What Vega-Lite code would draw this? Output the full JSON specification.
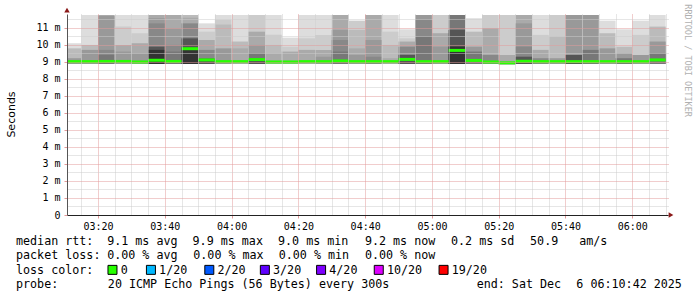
{
  "$schema": "https://vega.github.io/schema/vega-lite/v6.json",
  "width": 601,
  "height": 201,
  "autosize": {"type": "none"},
  "padding": {"left": 67, "top": 14, "right": 29, "bottom": 82},
  "background": "white",
  "config": {"view": {"stroke": null}, "font": "DejaVu Sans Mono", "axis": {"labelOverlap": false, "labelFlush": false}},
  "datasets": {
    "bands": [
      {"m":190,"m2":195,"lvl":1,"lo":8.88,"hi":10.1},{"m":190,"m2":195,"lvl":3,"lo":8.88,"hi":9.8},{"m":190,"m2":195,"lvl":5,"lo":8.88,"hi":9.22},
      {"m":195,"m2":200,"lvl":1,"lo":8.88,"hi":11.76},{"m":195,"m2":200,"lvl":3,"lo":8.88,"hi":10.0},{"m":195,"m2":200,"lvl":5,"lo":8.88,"hi":9.71},
      {"m":200,"m2":205,"lvl":4,"lo":8.88,"hi":11.76},{"m":200,"m2":205,"lvl":5,"lo":8.88,"hi":11.7},{"m":200,"m2":205,"lvl":6,"lo":8.88,"hi":9.71},{"m":200,"m2":205,"lvl":7,"lo":8.88,"hi":9.41},
      {"m":205,"m2":210,"lvl":1,"lo":8.88,"hi":11.76},{"m":205,"m2":210,"lvl":2,"lo":8.88,"hi":11.08},{"m":205,"m2":210,"lvl":4,"lo":8.88,"hi":10.0},{"m":205,"m2":210,"lvl":5,"lo":8.88,"hi":9.61},
      {"m":210,"m2":215,"lvl":1,"lo":8.88,"hi":11.76},{"m":210,"m2":215,"lvl":2,"lo":8.88,"hi":10.69},{"m":210,"m2":215,"lvl":4,"lo":8.88,"hi":10.1},{"m":210,"m2":215,"lvl":5,"lo":8.88,"hi":9.51},
      {"m":215,"m2":220,"lvl":4,"lo":8.88,"hi":11.76},{"m":215,"m2":220,"lvl":5,"lo":8.88,"hi":11.57},{"m":215,"m2":220,"lvl":6,"lo":8.88,"hi":11.27},{"m":215,"m2":220,"lvl":8,"lo":8.88,"hi":9.9},{"m":215,"m2":220,"lvl":9,"lo":8.88,"hi":9.71},
      {"m":220,"m2":225,"lvl":4,"lo":8.88,"hi":11.76},{"m":220,"m2":225,"lvl":5,"lo":8.88,"hi":10.98},{"m":220,"m2":225,"lvl":6,"lo":8.88,"hi":10.0},{"m":220,"m2":225,"lvl":7,"lo":8.88,"hi":9.61},
      {"m":225,"m2":230,"lvl":3,"lo":8.88,"hi":11.76},{"m":225,"m2":230,"lvl":4,"lo":8.88,"hi":11.6},{"m":225,"m2":230,"lvl":6,"lo":8.88,"hi":11.27},{"m":225,"m2":230,"lvl":8,"lo":8.88,"hi":10.39},{"m":225,"m2":230,"lvl":9,"lo":8.88,"hi":9.85},
      {"m":230,"m2":235,"lvl":1,"lo":8.88,"hi":11.27},{"m":230,"m2":235,"lvl":2,"lo":8.88,"hi":10.78},{"m":230,"m2":235,"lvl":4,"lo":8.88,"hi":10.29},{"m":230,"m2":235,"lvl":6,"lo":8.88,"hi":9.71},{"m":230,"m2":235,"lvl":8,"lo":8.88,"hi":9.2},
      {"m":235,"m2":240,"lvl":1,"lo":8.88,"hi":11.76},{"m":235,"m2":240,"lvl":2,"lo":8.88,"hi":11.47},{"m":235,"m2":240,"lvl":3,"lo":8.88,"hi":11.2},{"m":235,"m2":240,"lvl":5,"lo":8.88,"hi":9.8},
      {"m":240,"m2":245,"lvl":1,"lo":8.88,"hi":11.76},{"m":240,"m2":245,"lvl":3,"lo":8.88,"hi":10.2},{"m":240,"m2":245,"lvl":4,"lo":8.88,"hi":9.8},
      {"m":245,"m2":250,"lvl":2,"lo":8.88,"hi":11.76},{"m":245,"m2":250,"lvl":4,"lo":8.88,"hi":10.78},{"m":245,"m2":250,"lvl":5,"lo":8.88,"hi":10.0},{"m":245,"m2":250,"lvl":7,"lo":8.88,"hi":9.51},{"m":245,"m2":250,"lvl":8,"lo":8.88,"hi":9.22},
      {"m":250,"m2":255,"lvl":1,"lo":8.88,"hi":11.76},{"m":250,"m2":255,"lvl":2,"lo":8.88,"hi":10.6},{"m":250,"m2":255,"lvl":3,"lo":8.88,"hi":10.0},{"m":250,"m2":255,"lvl":4,"lo":8.88,"hi":9.5},
      {"m":255,"m2":260,"lvl":1,"lo":8.88,"hi":10.43},{"m":255,"m2":260,"lvl":2,"lo":8.88,"hi":9.9},{"m":255,"m2":260,"lvl":4,"lo":8.88,"hi":9.61},
      {"m":260,"m2":265,"lvl":1,"lo":8.88,"hi":11.76},{"m":260,"m2":265,"lvl":2,"lo":8.88,"hi":10.39},{"m":260,"m2":265,"lvl":4,"lo":8.88,"hi":9.71},
      {"m":265,"m2":270,"lvl":1,"lo":8.88,"hi":11.76},{"m":265,"m2":270,"lvl":2,"lo":8.88,"hi":10.59},{"m":265,"m2":270,"lvl":4,"lo":8.88,"hi":9.71},{"m":265,"m2":270,"lvl":5,"lo":8.88,"hi":9.3},
      {"m":270,"m2":275,"lvl":4,"lo":8.88,"hi":11.76},{"m":270,"m2":275,"lvl":5,"lo":8.88,"hi":10.88},{"m":270,"m2":275,"lvl":6,"lo":8.88,"hi":10.29},{"m":270,"m2":275,"lvl":7,"lo":8.88,"hi":9.61},
      {"m":275,"m2":280,"lvl":2,"lo":8.88,"hi":11.43},{"m":275,"m2":280,"lvl":3,"lo":8.88,"hi":10.88},{"m":275,"m2":280,"lvl":4,"lo":8.88,"hi":9.8},{"m":275,"m2":280,"lvl":5,"lo":8.88,"hi":9.41},
      {"m":280,"m2":285,"lvl":4,"lo":8.88,"hi":11.76},{"m":280,"m2":285,"lvl":5,"lo":8.88,"hi":10.29},{"m":280,"m2":285,"lvl":6,"lo":8.88,"hi":9.31},
      {"m":285,"m2":290,"lvl":1,"lo":8.88,"hi":11.76},{"m":285,"m2":290,"lvl":2,"lo":8.88,"hi":10.78},{"m":285,"m2":290,"lvl":3,"lo":8.88,"hi":10.0},{"m":285,"m2":290,"lvl":4,"lo":8.88,"hi":9.22},
      {"m":290,"m2":295,"lvl":1,"lo":8.88,"hi":10.92},{"m":290,"m2":295,"lvl":2,"lo":8.88,"hi":10.39},{"m":290,"m2":295,"lvl":4,"lo":8.88,"hi":10.2},{"m":290,"m2":295,"lvl":6,"lo":8.88,"hi":9.9},{"m":290,"m2":295,"lvl":8,"lo":8.88,"hi":9.41},
      {"m":295,"m2":300,"lvl":5,"lo":8.88,"hi":11.76},{"m":295,"m2":300,"lvl":6,"lo":8.88,"hi":11.5},{"m":295,"m2":300,"lvl":7,"lo":8.88,"hi":10.5},
      {"m":300,"m2":305,"lvl":2,"lo":8.88,"hi":11.76},{"m":300,"m2":305,"lvl":4,"lo":8.88,"hi":10.69},{"m":300,"m2":305,"lvl":5,"lo":8.88,"hi":9.9},
      {"m":305,"m2":310,"lvl":7,"lo":8.88,"hi":11.76},{"m":305,"m2":310,"lvl":8,"lo":8.88,"hi":10.88},{"m":305,"m2":310,"lvl":9,"lo":8.88,"hi":9.9},
      {"m":310,"m2":315,"lvl":1,"lo":8.88,"hi":11.57},{"m":310,"m2":315,"lvl":3,"lo":8.88,"hi":10.78},{"m":310,"m2":315,"lvl":5,"lo":8.88,"hi":9.9},{"m":310,"m2":315,"lvl":7,"lo":8.88,"hi":9.61},
      {"m":315,"m2":320,"lvl":2,"lo":8.88,"hi":11.76},{"m":315,"m2":320,"lvl":4,"lo":8.88,"hi":10.98},{"m":315,"m2":320,"lvl":6,"lo":8.88,"hi":9.41},
      {"m":320,"m2":325,"lvl":2,"lo":8.85,"hi":11.76},{"m":320,"m2":325,"lvl":4,"lo":8.85,"hi":9.41},
      {"m":325,"m2":330,"lvl":4,"lo":8.88,"hi":11.76},{"m":325,"m2":330,"lvl":5,"lo":8.88,"hi":11.27},{"m":325,"m2":330,"lvl":6,"lo":8.88,"hi":9.9},{"m":325,"m2":330,"lvl":8,"lo":8.88,"hi":9.31},
      {"m":330,"m2":335,"lvl":1,"lo":8.88,"hi":11.76},{"m":330,"m2":335,"lvl":2,"lo":8.88,"hi":10.59},{"m":330,"m2":335,"lvl":4,"lo":8.88,"hi":9.71},{"m":330,"m2":335,"lvl":6,"lo":8.88,"hi":9.22},
      {"m":335,"m2":340,"lvl":2,"lo":8.88,"hi":11.76},{"m":335,"m2":340,"lvl":3,"lo":8.88,"hi":10.49},{"m":335,"m2":340,"lvl":5,"lo":8.88,"hi":9.22},
      {"m":340,"m2":345,"lvl":5,"lo":8.88,"hi":11.76},{"m":340,"m2":345,"lvl":8,"lo":8.88,"hi":9.41},
      {"m":345,"m2":350,"lvl":5,"lo":8.88,"hi":11.76},{"m":345,"m2":350,"lvl":7,"lo":8.88,"hi":9.71},
      {"m":350,"m2":355,"lvl":1,"lo":8.88,"hi":11.43},{"m":350,"m2":355,"lvl":3,"lo":8.88,"hi":10.69},{"m":350,"m2":355,"lvl":5,"lo":8.88,"hi":9.8},
      {"m":355,"m2":360,"lvl":1,"lo":8.88,"hi":10.92},{"m":355,"m2":360,"lvl":3,"lo":8.88,"hi":9.9},{"m":355,"m2":360,"lvl":5,"lo":8.88,"hi":9.51},{"m":355,"m2":360,"lvl":7,"lo":8.88,"hi":9.22},
      {"m":360,"m2":365,"lvl":1,"lo":8.88,"hi":11.43},{"m":360,"m2":365,"lvl":2,"lo":8.88,"hi":10.59},{"m":360,"m2":365,"lvl":5,"lo":8.88,"hi":9.41},
      {"m":365,"m2":370,"lvl":1,"lo":8.88,"hi":11.76},{"m":365,"m2":370,"lvl":3,"lo":8.88,"hi":11.08},{"m":365,"m2":370,"lvl":5,"lo":8.88,"hi":10.2},{"m":365,"m2":370,"lvl":7,"lo":8.88,"hi":9.51}
    ],
    "medians": [
      {"m":190,"m2":195,"med":9.02},{"m":195,"m2":200,"med":9.02},{"m":200,"m2":205,"med":9.03},{"m":205,"m2":210,"med":9.03},
      {"m":210,"m2":215,"med":9.0},{"m":215,"m2":220,"med":9.1},{"m":220,"m2":225,"med":9.03},{"m":225,"m2":230,"med":9.78},
      {"m":230,"m2":235,"med":9.12},{"m":235,"m2":240,"med":9.02},{"m":240,"m2":245,"med":9.02},{"m":245,"m2":250,"med":9.14},
      {"m":250,"m2":255,"med":9.0},{"m":255,"m2":260,"med":9.0},{"m":260,"m2":265,"med":9.02},{"m":265,"m2":270,"med":9.02},
      {"m":270,"m2":275,"med":9.06},{"m":275,"m2":280,"med":9.02},{"m":280,"m2":285,"med":9.02},{"m":285,"m2":290,"med":9.02},
      {"m":290,"m2":295,"med":9.15},{"m":295,"m2":300,"med":9.02},{"m":300,"m2":305,"med":9.02},{"m":305,"m2":310,"med":9.68},
      {"m":310,"m2":315,"med":9.09},{"m":315,"m2":320,"med":9.0},{"m":320,"m2":325,"med":8.95},{"m":325,"m2":330,"med":9.04},
      {"m":330,"m2":335,"med":9.02},{"m":335,"m2":340,"med":9.02},{"m":340,"m2":345,"med":9.02},{"m":345,"m2":350,"med":9.02},
      {"m":350,"m2":355,"med":9.02},{"m":355,"m2":360,"med":9.02},{"m":360,"m2":365,"med":9.02},{"m":365,"m2":370,"med":9.12}
    ],
    "legend": [
      {"line": 0, "col": 0, "text": "median rtt:"},
      {"line": 0, "col": 12.8, "text": "9.1 ms avg"},
      {"line": 0, "col": 24.8, "text": "9.9 ms max"},
      {"line": 0, "col": 36.8, "text": "9.0 ms min"},
      {"line": 0, "col": 49.0, "text": "9.2 ms now"},
      {"line": 0, "col": 61.1, "text": "0.2 ms sd"},
      {"line": 0, "col": 72.2, "text": "50.9"},
      {"line": 0, "col": 79.1, "text": "am/s"},
      {"line": 1, "col": 0, "text": "packet loss:"},
      {"line": 1, "col": 12.8, "text": "0.00 % avg"},
      {"line": 1, "col": 24.9, "text": "0.00 % max"},
      {"line": 1, "col": 36.9, "text": "0.00 % min"},
      {"line": 1, "col": 49.0, "text": "0.00 % now"},
      {"line": 2, "col": 0, "text": "loss color:"},
      {"line": 2, "col": 14.7, "text": "0"},
      {"line": 2, "col": 20.1, "text": "1/20"},
      {"line": 2, "col": 28.3, "text": "2/20"},
      {"line": 2, "col": 36.1, "text": "3/20"},
      {"line": 2, "col": 44.0, "text": "4/20"},
      {"line": 2, "col": 52.1, "text": "10/20"},
      {"line": 2, "col": 61.2, "text": "19/20"},
      {"line": 3, "col": 0, "text": "probe:"},
      {"line": 3, "col": 12.9, "text": "20 ICMP Echo Pings (56 Bytes) every 300s"},
      {"line": 3, "col": 64.7, "text": "end: Sat Dec"},
      {"line": 3, "col": 78.7, "text": "6 06:10:42 2025"}
    ],
    "boxes": [
      {"line": 2, "col": 13.55, "loss": "0"},
      {"line": 2, "col": 18.95, "loss": "1/20"},
      {"line": 2, "col": 27.15, "loss": "2/20"},
      {"line": 2, "col": 34.95, "loss": "3/20"},
      {"line": 2, "col": 42.85, "loss": "4/20"},
      {"line": 2, "col": 50.95, "loss": "10/20"},
      {"line": 2, "col": 60.05, "loss": "19/20"}
    ]
  },
  "layer": [
    {
      "data": {"name": "medians"},
      "mark": {"type": "tick", "opacity": 0},
      "encoding": {
        "x": {
          "field": "m", "type": "quantitative",
          "scale": {"domain": [190.7, 370.7], "nice": false, "zero": false},
          "axis": {"orient": "top", "title": null, "values": [195, 205, 210, 215, 225, 230, 235, 245, 250, 255, 265, 270, 275, 285, 290, 295, 305, 310, 315, 325, 330, 335, 345, 350, 355, 365, 370], "labels": false, "ticks": false, "domain": false, "grid": true, "gridColor": "#cccccc", "gridDash": [1, 1], "zindex": 1}
        },
        "y": {
          "field": "med", "type": "quantitative",
          "scale": {"domain": [0, 11.82], "nice": false, "zero": true},
          "axis": {"orient": "right", "title": null, "values": [0.5, 1.5, 2.5, 3.5, 4.5, 5.5, 6.5, 7.5, 8.5, 9.5, 10.5, 11.5], "labels": false, "ticks": false, "domain": false, "grid": true, "gridColor": "#cccccc", "gridDash": [1, 1], "zindex": 1}
        }
      }
    },
    {
      "data": {"name": "bands"},
      "mark": {"type": "rect", "clip": true},
      "encoding": {
        "x": {
          "field": "m", "type": "quantitative",
          "scale": {"domain": [190.7, 370.7], "nice": false, "zero": false},
          "axis": {
            "orient": "bottom", "title": null,
            "values": [200, 220, 240, 260, 280, 300, 320, 340, 360],
            "labelExpr": "'0' + floor(datum.value / 60) + ':' + (datum.value % 60 < 10 ? '0' : '') + (datum.value % 60)",
            "labelOverlap": false, "labelFlush": false,
            "labelFont": "DejaVu Sans Mono", "labelFontSize": 10, "labelColor": "#000",
            "labelPadding": 3, "tickSize": 3, "tickColor": "#e39a9a",
            "grid": true, "gridColor": "#e39a9a", "gridDash": [1, 1],
            "domainColor": "#222222", "zindex": 1
          }
        },
        "x2": {"field": "m2"},
        "y": {
          "field": "lo", "type": "quantitative",
          "scale": {"domain": [0, 11.82], "nice": false, "zero": true},
          "axis": {
            "orient": "left",
            "values": [0, 1, 2, 3, 4, 5, 6, 7, 8, 9, 10, 11],
            "labelExpr": "datum.value === 0 ? '0' : datum.value + ' m'",
            "labelOverlap": false, "labelFont": "DejaVu Sans Mono", "labelFontSize": 10, "labelColor": "#000",
            "labelPadding": 4, "tickSize": 3, "tickColor": "#e39a9a",
            "grid": true, "gridColor": "#e39a9a", "gridDash": [1, 1],
            "domainColor": "#555555",
            "title": "Seconds", "titleFont": "DejaVu Sans", "titleFontSize": 11, "titleFontWeight": "normal", "titleColor": "#000",
            "titleX": -56, "titleY": 100, "titleAngle": -90, "titleBaseline": "middle", "titleAlign": "center",
            "zindex": 1
          }
        },
        "y2": {"field": "hi"},
        "color": {
          "field": "lvl", "type": "ordinal",
          "scale": {"domain": [1, 2, 3, 4, 5, 6, 7, 8, 9], "range": ["#dddddd", "#cccccc", "#bbbbbb", "#aaaaaa", "#999999", "#888888", "#777777", "#555555", "#333333"]},
          "legend": null
        }
      }
    },
    {
      "data": {"name": "medians"},
      "mark": {"type": "rule", "clip": true, "strokeWidth": 3, "color": "#26ff00"},
      "encoding": {
        "x": {"field": "m", "type": "quantitative", "scale": {"domain": [190.7, 370.7], "nice": false, "zero": false}, "axis": null},
        "x2": {"field": "m2"},
        "y": {"field": "med", "type": "quantitative", "scale": {"domain": [0, 11.82], "nice": false, "zero": true}, "axis": null}
      }
    },
    {
      "data": {"values": [{"arrow": "y"}]},
      "mark": {"type": "point", "shape": "triangle-up", "filled": true, "size": 30, "color": "#8b1a1a", "opacity": 1, "clip": false},
      "encoding": {
        "x": {"datum": 190.7, "type": "quantitative", "scale": {"domain": [190.7, 370.7], "nice": false, "zero": false}, "axis": null},
        "y": {"datum": 12.05, "type": "quantitative", "scale": {"domain": [0, 11.82], "nice": false, "zero": true}, "axis": null}
      }
    },
    {
      "data": {"values": [{"arrow": "x"}]},
      "mark": {"type": "point", "shape": "triangle-right", "filled": true, "size": 30, "color": "#8b1a1a", "opacity": 1, "clip": false},
      "encoding": {
        "x": {"datum": 371.6, "type": "quantitative", "scale": {"domain": [190.7, 370.7], "nice": false, "zero": false}, "axis": null},
        "y": {"datum": 0, "type": "quantitative", "scale": {"domain": [0, 11.82], "nice": false, "zero": true}, "axis": null}
      }
    },
    {
      "data": {"name": "legend"},
      "mark": {"type": "text", "align": "left", "baseline": "middle", "font": "DejaVu Sans Mono", "fontSize": 11.7, "color": "#000"},
      "encoding": {
        "x": {"field": "col", "type": "quantitative", "scale": {"domain": [0, 100], "range": [-51, 661]}, "axis": null},
        "y": {"field": "line", "type": "quantitative", "scale": {"domain": [0, 3], "range": [227, 270.3]}, "axis": null},
        "text": {"field": "text"}
      }
    },
    {
      "data": {"name": "boxes"},
      "mark": {"type": "point", "shape": "square", "filled": true, "size": 81, "stroke": "#000", "strokeWidth": 1, "opacity": 1},
      "encoding": {
        "x": {"field": "col", "type": "quantitative", "scale": {"domain": [0, 100], "range": [-51, 661]}, "axis": null},
        "y": {"field": "line", "type": "quantitative", "scale": {"domain": [0, 3], "range": [227, 270.3]}, "axis": null},
        "fill": {
          "field": "loss", "type": "nominal",
          "scale": {"domain": ["0", "1/20", "2/20", "3/20", "4/20", "10/20", "19/20"], "range": ["#26ff00", "#00b8ff", "#0059ff", "#5e00ff", "#7e00ff", "#dd00ff", "#ff0000"]},
          "legend": null
        }
      }
    },
    {
      "data": {"values": [{"label": "RRDTOOL / TOBI OETIKER"}]},
      "mark": {"type": "text", "angle": 90, "align": "center", "baseline": "middle", "font": "DejaVu Sans Mono", "fontSize": 8.5, "color": "#b0b0b0"},
      "encoding": {
        "x": {"datum": 94.45, "type": "quantitative", "scale": {"domain": [0, 100], "range": [-51, 661]}, "axis": null},
        "y": {"datum": -12.5, "type": "quantitative", "scale": {"domain": [0, 3], "range": [227, 270.3]}, "axis": null},
        "text": {"field": "label"}
      }
    }
  ],
  "resolve": {"scale": {"x": "independent", "y": "independent"}}
}
